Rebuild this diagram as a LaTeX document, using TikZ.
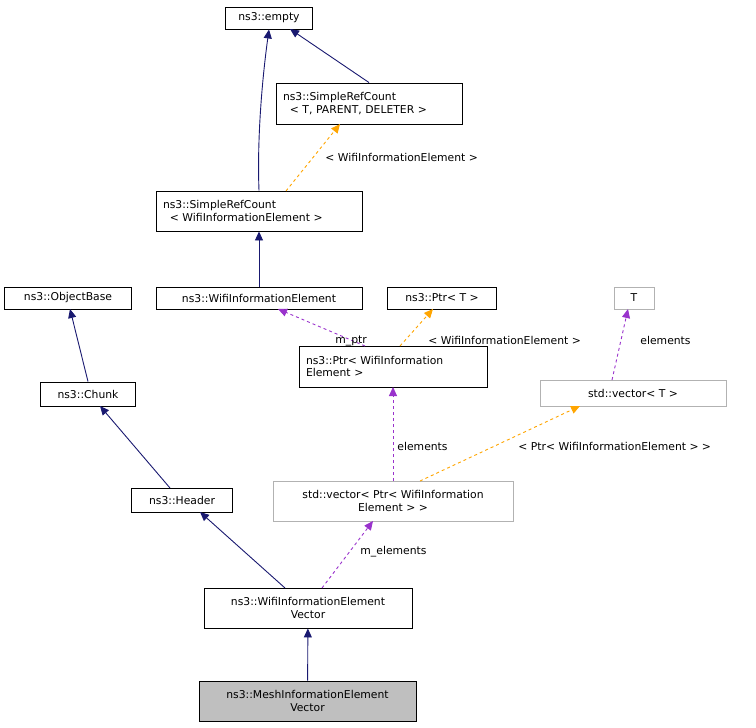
\documentclass[tikz,border=0pt]{standalone}
\usepackage{fontspec}
\setmainfont{DejaVu Sans}
\usetikzlibrary{arrows.meta}
\definecolor{navy}{RGB}{25,25,112}
\definecolor{purp}{RGB}{153,50,204}
\definecolor{orng}{RGB}{255,165,0}
\begin{document}
\begin{tikzpicture}[x=1pt,y=-1pt,line width=0.9pt,
 box/.style={draw=black,fill=white,inner sep=0pt,align=center,font=\fontsize{10.8}{12.5}\selectfont},
 lbox/.style={box,align=left,text width=#1},
 gbox/.style={box,draw=gray!60},
 lbl/.style={font=\fontsize{10.8}{12.5}\selectfont,inner sep=0pt,anchor=west},
 inh/.style={color=navy,-{Triangle[length=9pt,width=8pt]}},
 use/.style={color=purp,dashed,-{Triangle[length=9pt,width=8pt]}},
 tpl/.style={color=orng,dashed,-{Triangle[length=9pt,width=8pt]}}]
\useasboundingbox (0,0) rectangle (756,728);
\node[box,minimum width=87,minimum height=22] (empty) at (269,18) {ns3::empty};
\node[lbox=172,minimum width=186,minimum height=41] (srct) at (369,103.5) {ns3::SimpleRefCount\\\phantom{n}< T, PARENT, DELETER >};
\node[lbox=192,minimum width=206,minimum height=40] (srcw) at (259,211) {ns3::SimpleRefCount\\\phantom{n}< WifiInformationElement >};
\node[box,minimum width=127,minimum height=22] (ob) at (68,298) {ns3::ObjectBase};
\node[box,minimum width=206,minimum height=22] (wie) at (259,298) {ns3::WifiInformationElement};
\node[box,minimum width=109,minimum height=22] (ptrt) at (442,298) {ns3::Ptr< T >};
\node[gbox,minimum width=40,minimum height=22] (t) at (634,298) {T};
\node[box,minimum width=95,minimum height=24] (chunk) at (88,394) {ns3::Chunk};
\node[lbox=174,minimum width=188,minimum height=41] (ptrw) at (393,366.5) {ns3::Ptr< WifiInformation\\Element >};
\node[gbox,minimum width=186,minimum height=26] (vect) at (633,393) {std::vector< T >};
\node[box,minimum width=101,minimum height=24] (hdr) at (182,500) {ns3::Header};
\node[gbox,minimum width=240,minimum height=40] (vecp) at (393,501) {std::vector< Ptr< WifiInformation\\Element > >};
\node[box,minimum width=208,minimum height=40] (wiev) at (308,608) {ns3::WifiInformationElement\\Vector};
\node[box,fill=gray!50,minimum width=217,minimum height=40] (mesh) at (307.5,701) {ns3::MeshInformationElement\\Vector};

\draw[inh] (srcw.north) .. controls (257,140) and (262,80) .. (empty.south);
\draw[inh] (srct.north) -- (290,29);
\draw[tpl] (286,191) -- (340,124);
\node[lbl] at (325,157) {< WifiInformationElement >};
\draw[inh] (wie) -- (srcw);
\draw[inh] (chunk.north) -- (70,309);
\draw[use] (365,346) -- (278,309);
\node[lbl] at (335,341) {m\_ptr};
\draw[tpl] (400,346) -- (433,309);
\node[lbl] at (428,340) {< WifiInformationElement >};
\draw[use] (612,380) -- (628,309);
\node[lbl] at (640,340) {elements};
\draw[use] (393,481) -- (393,387);
\node[lbl] at (397,446) {elements};
\draw[tpl] (420,481) -- (580,406);
\node[lbl] at (518,446) {< Ptr< WifiInformationElement > >};
\draw[inh] (170,488) -- (100,406);
\draw[inh] (285,588) -- (200,512);
\draw[use] (322,588) -- (373,521);
\node[lbl] at (360,552) {m\_elements};
\draw[inh] (mesh) -- (wiev);
\end{tikzpicture}
\end{document}
